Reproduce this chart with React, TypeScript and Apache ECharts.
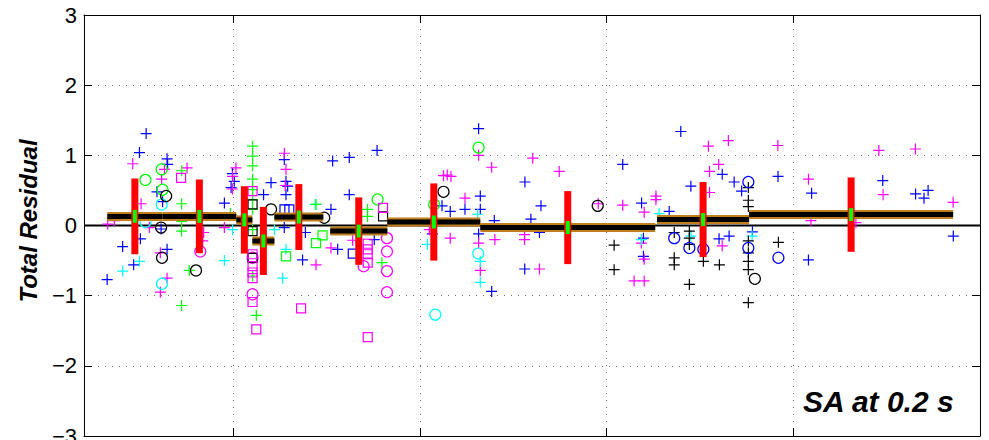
import React, { useEffect, useRef } from "react";
import * as echarts from "echarts";

// ---------- axis ----------
const X_MIN = 0.2;
const X_MAX = 5;
const Y_MIN = -3;
const Y_MAX = 3;
const Y_STEP = 1;

// ---------- binned statistics ----------
const binStart = [0.325, 0.62, 1.016, 1.102, 1.22, 1.519, 1.825, 2.323, 3.27, 3.763];
const binEnd = [0.62, 1.016, 1.102, 1.22, 1.482, 1.825, 2.323, 3.26, 3.763, 4.856];
const binMean = [0.13, 0.13, 0.08, -0.22, 0.12, -0.08, 0.05, -0.03, 0.085, 0.155];
const binStd = [0.54, 0.525, 0.48, 0.485, 0.47, 0.48, 0.55, 0.52, 0.535, 0.53];

// ---------- individual residuals [x, residual] ----------
const bluePlus = [
  [0.533, 1.31], [0.497, 1.04], [0.645, 0.95], [0.648, 0.87], [0.591, 0.48], [0.621, 0.34],
  [0.952, 0.32], [0.988, 0.54], [0.502, -0.19], [0.407, -0.3], [0.466, -0.56], [0.645, -0.34],
  [0.324, -0.77], [0.613, -0.05], [1.005, 0.63], [1.202, 0.61], [1.162, 0.44], [1.273, 0.94],
  [1.282, 0.63], [1.291, 0.56], [1.282, 0.44], [1.523, 0.23], [1.532, 0.92], [1.621, 0.97],
  [1.77, 1.07], [1.621, 0.44], [1.273, -0.03], [1.371, -0.49], [1.559, -0.34], [1.755, -0.2],
  [0.995, 0.74], [1.386, -0.1], [2.314, 1.38], [2.562, 0.62], [2.323, 0.42], [2.241, 0.23],
  [2.323, 0.23], [2.162, 0.2], [2.118, 0.28], [2.398, 0.07], [2.314, -0.12], [2.384, -0.94],
  [2.561, -0.62], [2.594, 0.09], [2.648, 0.28], [2.64, -0.1], [3.086, 0.87], [3.187, 0.32],
  [3.197, -0.18], [3.197, -0.44], [3.397, 1.34], [3.335, 0.2], [2.066, -0.12], [3.451, 0.56],
  [3.619, 0.73], [3.683, 0.62], [3.723, 0.49], [3.918, 0.7], [4.098, 0.46], [3.602, -0.19],
  [3.656, -0.15], [3.781, -0.09], [4.081, -0.49], [4.479, 0.64], [4.655, 0.45], [4.7, 0.39],
  [4.722, 0.5], [4.857, -0.15],
];
const magentaPlus = [
  [0.461, 0.88], [0.631, 0.8], [0.752, 0.82], [0.616, 0.66], [0.506, 0.31], [0.996, 0.7],
  [0.327, 0.02], [0.363, 0.07], [0.55, -0.03], [0.952, -0.03], [0.836, -0.22], [0.609, -0.39],
  [0.645, -0.75], [0.609, -0.95], [0.841, -0.1], [1.014, 0.82], [0.995, 0.52], [1.273, 1.03],
  [1.282, 0.8], [1.278, 0.57], [1.443, -0.56], [1.523, -0.32], [1.639, -0.21], [2.314, 1.0],
  [2.384, 0.83], [2.604, 0.96], [2.126, 0.71], [2.146, 0.72], [2.166, 0.7], [2.241, 0.39],
  [2.05, -0.06], [2.162, -0.18], [2.314, -0.25], [2.401, -0.2], [2.323, -0.64], [2.56, -0.13],
  [2.56, -0.2], [2.64, -0.62], [2.746, 0.77], [3.086, 0.29], [2.955, 0.31], [3.201, 0.19],
  [3.264, 0.42], [3.264, 0.37], [3.186, -0.25], [3.201, -0.48], [3.147, -0.79], [3.201, -0.79],
  [3.545, 1.13], [3.652, 1.21], [3.917, 1.14], [3.6, 0.87], [3.551, 0.77], [3.551, 0.47],
  [4.081, 0.66], [4.094, 0.07], [3.619, -0.29], [4.458, 1.07], [4.654, 1.09], [4.481, 0.44],
  [4.856, 0.33], [4.335, 0.04],
];
const cyanPlus = [
  [0.497, -0.51], [0.407, -0.65], [0.952, -0.5], [0.996, -0.06], [1.22, -0.06], [1.282, -0.34],
  [1.264, -0.75], [2.04, -0.27], [2.323, -0.51], [2.323, -0.81], [3.186, -0.2], [3.281, 0.17],
  [3.451, -0.15], [3.779, -0.15], [1.439, 0.3], [2.309, 0.16],
];
const greenPlus = [
  [1.103, 1.13], [1.103, 0.99], [1.103, 0.85], [1.103, 0.66], [1.103, 0.51], [1.103, 0.37],
  [1.103, 0.23], [1.103, -0.06], [1.103, -0.72], [1.123, -1.28], [0.724, 0.78], [0.723, 0.31],
  [0.723, 0.06], [0.723, -0.08], [0.764, -0.64], [0.723, -1.14], [1.443, 0.3], [1.719, 0.23],
  [1.719, 0.13], [1.796, -0.53], [0.984, 0.17],
];
const blackPlus = [
  [3.04, -0.28], [3.04, -0.63], [3.362, -0.1], [3.362, -0.46], [3.362, -0.56], [3.443, -0.08],
  [3.443, -0.18], [3.443, -0.27], [3.443, -0.84], [3.518, -0.51], [3.604, -0.56], [3.759, 0.54],
  [3.759, 0.36], [3.759, 0.27], [3.759, -0.22], [3.759, -0.39], [3.759, -0.51], [3.759, -0.63],
  [3.759, -1.1], [3.92, -0.24],
];
const cyanCircle = [[0.529, 0.05], [0.616, 0.3], [0.618, -0.83], [2.312, -0.4], [2.082, -1.27]];
const greenCircle = [[0.529, 0.65], [0.616, 0.8], [0.621, 0.51], [1.773, 0.37], [2.314, 1.11], [2.076, 0.3]];
const blackCircle = [
  [0.64, 0.42], [0.613, -0.03], [0.618, -0.46], [0.8, -0.64], [1.202, 0.23], [1.487, 0.11],
  [2.126, 0.48], [2.952, 0.28], [3.794, -0.76],
];
const blueCircle = [[3.362, -0.18], [3.443, -0.32], [3.518, -0.34], [3.759, 0.62], [3.759, -0.32], [3.92, -0.46]];
const magentaCircle = [
  [0.823, -0.37], [1.103, -0.46], [1.103, -0.98], [1.698, -0.58], [1.823, -0.18], [1.823, -0.37],
  [1.823, -0.65], [1.823, -0.95],
];
const greenSquare = [[1.282, -0.44], [1.443, -0.25], [1.478, -0.14]];
const blackSquare = [[1.103, 0.3], [1.103, -0.08], [1.103, -0.46], [1.802, 0.13]];
const blueSquare = [[1.274, 0.23], [1.3, 0.23], [1.64, -0.4]];
const magentaSquare = [
  [0.72, 0.68], [1.103, 0.49], [1.103, -0.41], [1.103, -0.58], [1.103, -0.67], [1.103, -0.75],
  [1.103, -1.09], [1.123, -1.48], [1.363, -1.18], [1.72, -0.26], [1.72, -0.34], [1.72, -0.41],
  [1.72, -0.53], [1.72, -1.59], [1.802, 0.25],
];

const FONT = "'Liberation Sans', Arial, Helvetica, sans-serif";
const PLUS = "path://M0,5L10,5M5,0L5,10";

const markerGroups = [
  { data: bluePlus, color: "#0000ff", symbol: PLUS, size: 11 },
  { data: magentaPlus, color: "#ff00ff", symbol: PLUS, size: 11 },
  { data: cyanPlus, color: "#00ffff", symbol: PLUS, size: 11 },
  { data: greenPlus, color: "#00ff00", symbol: PLUS, size: 11 },
  { data: blackPlus, color: "#000000", symbol: PLUS, size: 11 },
  { data: cyanCircle, color: "#00ffff", symbol: "circle", size: 11 },
  { data: greenCircle, color: "#00ff00", symbol: "circle", size: 11 },
  { data: blackCircle, color: "#000000", symbol: "circle", size: 11 },
  { data: blueCircle, color: "#0000ff", symbol: "circle", size: 11 },
  { data: magentaCircle, color: "#ff00ff", symbol: "circle", size: 11 },
  { data: greenSquare, color: "#00ff00", symbol: "rect", size: 9 },
  { data: blackSquare, color: "#000000", symbol: "rect", size: 9 },
  { data: blueSquare, color: "#0000ff", symbol: "rect", size: 9 },
  { data: magentaSquare, color: "#ff00ff", symbol: "rect", size: 9 },
];

export default function App() {
  const ref = useRef<HTMLDivElement>(null);

  useEffect(() => {
    if (!ref.current) return;
    const chart = echarts.init(ref.current, undefined, { renderer: "svg" });

    const axisCommon = {
      type: "value" as const,
      axisLine: { show: true, onZero: false, lineStyle: { color: "#000", width: 1 } },
      axisTick: { show: true, inside: true, length: 8, lineStyle: { color: "#000", width: 1 } },
    };

    const scatterSeries = markerGroups.map((g) => ({
      type: "scatter",
      data: g.data,
      symbol: g.symbol,
      symbolSize: g.size,
      z: 2,
      silent: true,
      emphasis: { disabled: true },
      itemStyle: { color: "rgba(0,0,0,0)", borderColor: g.color, borderWidth: 1.2, opacity: 1 },
    }));

    const meanData = binStart.map((s, i) => [s, binEnd[i], binMean[i]]);
    const sdData = binStart.map((s, i) => [
      (s + binEnd[i]) / 2,
      binMean[i] - binStd[i],
      binMean[i] + binStd[i],
      binMean[i],
    ]);

    chart.setOption({
      animation: false,
      backgroundColor: "#ffffff",
      grid: {
        left: 84,
        right: 9,
        top: 15,
        bottom: 4,
        containLabel: false,
        outerBoundsMode: "none",
      },
      xAxis: [
        {
          ...axisCommon,
          min: X_MIN,
          max: X_MAX,
          position: "bottom",
          axisLabel: { show: false },
          splitLine: { show: true, lineStyle: { type: [1, 6], color: "#6e6e6e", width: 1 } },
        },
        {
          ...axisCommon,
          min: X_MIN,
          max: X_MAX,
          position: "top",
          axisLabel: { show: false },
          splitLine: { show: false },
        },
      ],
      yAxis: [
        {
          ...axisCommon,
          min: Y_MIN,
          max: Y_MAX,
          interval: Y_STEP,
          position: "left",
          axisLabel: {
            show: true,
            color: "#000",
            fontSize: 22,
            fontFamily: FONT,
            margin: 7,
            formatter: (v: number) => (v < 0 ? "\u2212" + Math.abs(v) : String(v)),
          },
          splitLine: { show: true, lineStyle: { type: [1, 6], color: "#6e6e6e", width: 1 } },
        },
        {
          ...axisCommon,
          min: Y_MIN,
          max: Y_MAX,
          interval: Y_STEP,
          position: "right",
          axisLabel: { show: false },
          splitLine: { show: false },
        },
      ],
      series: [
        {
          type: "line",
          data: [
            [X_MIN, 0],
            [X_MAX, 0],
          ],
          symbol: "none",
          z: 1,
          silent: true,
          lineStyle: { color: "#000", width: 2 },
        },
        ...scatterSeries,
        {
          type: "custom",
          z: 3,
          silent: true,
          data: meanData,
          encode: { x: [0, 1], y: 2 },
          renderItem: (_p: any, api: any) => {
            const a = api.coord([api.value(0), api.value(2)]);
            const b = api.coord([api.value(1), api.value(2)]);
            return {
              type: "group",
              children: [
                {
                  type: "rect",
                  shape: { x: a[0], y: a[1] - 4.5, width: b[0] - a[0], height: 9 },
                  style: { fill: "#bf7f1c" },
                },
                {
                  type: "rect",
                  shape: { x: a[0], y: a[1] - 2.5, width: b[0] - a[0], height: 5 },
                  style: { fill: "#000000" },
                },
              ],
            };
          },
        },
        {
          type: "custom",
          z: 4,
          silent: true,
          data: sdData,
          encode: { x: 0, y: [1, 2] },
          renderItem: (_p: any, api: any) => {
            const top = api.coord([api.value(0), api.value(2)]);
            const bot = api.coord([api.value(0), api.value(1)]);
            const mid = api.coord([api.value(0), api.value(3)]);
            return {
              type: "group",
              children: [
                {
                  type: "rect",
                  shape: { x: top[0] - 3.5, y: top[1], width: 7, height: bot[1] - top[1] },
                  style: { fill: "#ff0000" },
                },
                {
                  type: "rect",
                  shape: { x: mid[0] - 2, y: mid[1] - 6.5, width: 4, height: 13 },
                  style: { fill: "#00ff00" },
                },
              ],
            };
          },
        },
      ],
      graphic: [
        {
          type: "text",
          x: 28,
          y: 221,
          rotation: Math.PI / 2,
          silent: true,
          style: {
            text: "Total Residual",
            fontFamily: FONT,
            fontSize: 24,
            fontWeight: "bold",
            fontStyle: "italic",
            fill: "#000",
            align: "center",
            verticalAlign: "middle",
            textAlign: "center",
            textVerticalAlign: "middle",
          },
        },
        {
          type: "text",
          x: 803,
          y: 401,
          silent: true,
          style: {
            text: "SA at 0.2 s",
            fontFamily: FONT,
            fontSize: 30,
            fontWeight: "bold",
            fontStyle: "italic",
            fill: "#000",
            align: "left",
            verticalAlign: "middle",
            textAlign: "left",
            textVerticalAlign: "middle",
          },
        },
      ],
    });

    return () => chart.dispose();
  }, []);

  return (
    <div
      ref={ref}
      style={{ position: "absolute", left: 0, top: 0, width: 989, height: 440, background: "#fff" }}
    />
  );
}
